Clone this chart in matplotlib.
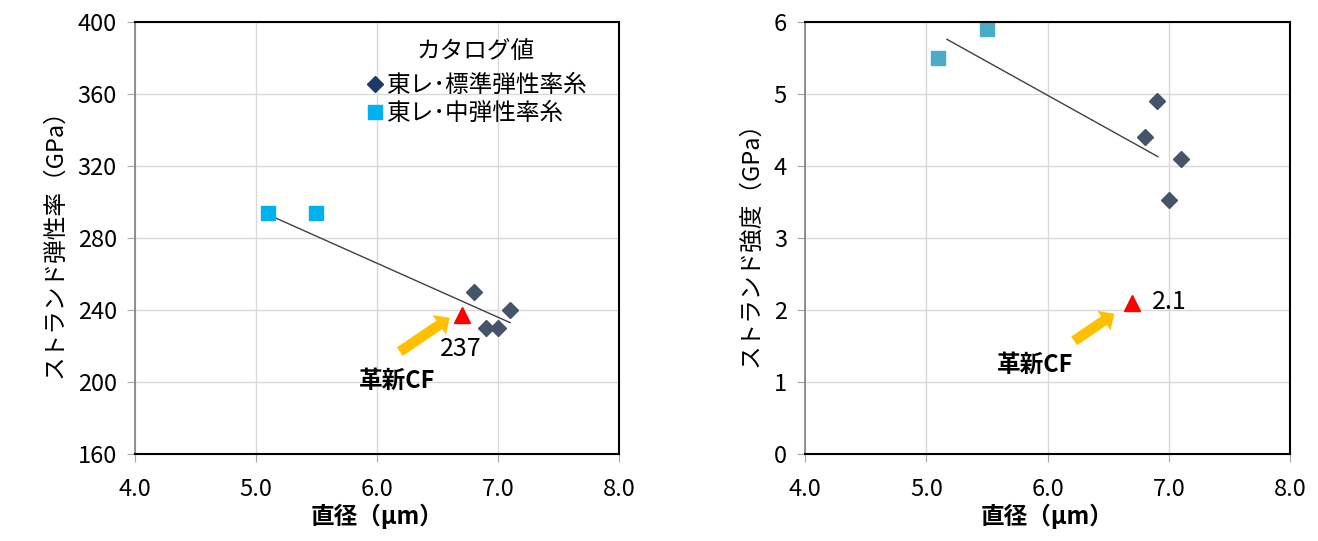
import matplotlib
matplotlib.use('Agg')
import matplotlib.pyplot as plt
from matplotlib.ticker import FormatStrFormatter

plt.rcParams['font.family'] = ['Noto Sans CJK JP', 'DejaVu Sans']

# catalog values (Toray)
std_d = [6.8, 6.9, 7.0, 7.1]
std_mod = [250, 230, 230, 240]
std_str = [4.4, 4.9, 3.53, 4.1]

mid_d = [5.1, 5.5]
mid_mod = [294, 294]
mid_str = [5.5, 5.9]

# new CF
new_d = [6.7]
new_mod = [237]
new_str = [2.1]

# trend lines
trend_mod_x = [5.1, 7.1]
trend_mod_y = [293, 233]
trend_str_x = [5.17, 6.91]
trend_str_y = [5.76, 4.13]

mod_ticks = [160, 200, 240, 280, 320, 360, 400]
str_ticks = [0, 1, 2, 3, 4, 5, 6]
d_ticks = [4.0, 5.0, 6.0, 7.0, 8.0]

fig = plt.figure(figsize=(13.18, 5.41), dpi=100)
ax1 = fig.add_axes([0.1024, 0.1608, 0.3672, 0.7985])
ax2 = fig.add_axes([0.6108, 0.1608, 0.3680, 0.7985])

arrow_style = 'simple,head_length=0.9,head_width=1.7,tail_width=0.75'


def style(ax, yt, ylabel):
    ax.set_xlim(4, 8)
    ax.set_ylim(yt[0], yt[-1])
    ax.set_xticks(d_ticks)
    ax.set_yticks(yt)
    ax.xaxis.set_major_formatter(FormatStrFormatter('%.1f'))
    ax.grid(True, color='#D9D9D9', lw=1)
    ax.set_axisbelow(True)
    for s in ['top', 'right', 'bottom']:
        ax.spines[s].set_color('black')
        ax.spines[s].set_linewidth(1.5)
    ax.spines['left'].set_color('#7F7F7F')
    ax.spines['left'].set_linewidth(1.2)
    ax.tick_params(direction='out', length=6, color='#A6A6A6', labelsize=17)
    ax.tick_params(axis='x', pad=11)
    ax.tick_params(axis='y', pad=7)
    ax.set_xlabel('直径（μm）', fontsize=17, fontweight='bold', labelpad=2)
    ax.set_ylabel(ylabel, fontsize=17, labelpad=8)


# left: modulus
ax1.plot(trend_mod_x, trend_mod_y, color='#404040', lw=1)
ax1.plot(std_d, std_mod, 'D', color='#44546A', ms=8, ls='none')
ax1.plot(mid_d, mid_mod, 's', color='#00B0F0', ms=9.5, ls='none')
ax1.plot(new_d, new_mod, '^', color='#FF0000', ms=11, ls='none', zorder=5)
h1, = ax1.plot([], [], 'D', color='#1F3864', ms=8, ls='none')
h2, = ax1.plot([], [], 's', color='#00B0F0', ms=9.5, ls='none')
leg = ax1.legend([h1, h2], ['東レ･標準弾性率糸', '東レ･中弾性率糸'],
                 title='カタログ値', loc='upper left', bbox_to_anchor=(0.462, 0.97),
                 frameon=False, fontsize=17, title_fontsize=17,
                 handletextpad=0.0, handlelength=1.0, labelspacing=0.22,
                 borderaxespad=0, borderpad=0.2)
leg._legend_box.sep = 8
ax1.annotate('', xy=(6.62, 236.5), xytext=(6.17, 216.0),
             arrowprops=dict(arrowstyle=arrow_style, color='#FFC000', lw=0))
ax1.text(6.69, 218.5, str(new_mod[0]), fontsize=18, ha='center', va='center')
ax1.text(6.17, 200.5, '革新CF', fontsize=17, fontweight='bold', ha='center', va='center')
style(ax1, mod_ticks, 'ストランド弾性率（GPa）')

# right: strength
ax2.plot(trend_str_x, trend_str_y, color='#404040', lw=1)
ax2.plot(std_d, std_str, 'D', color='#44546A', ms=8, ls='none')
ax2.plot(mid_d, mid_str, 's', color='#4BACC6', ms=9.5, ls='none', clip_on=False)
ax2.plot(new_d, new_str, '^', color='#FF0000', ms=11, ls='none', zorder=5)
ax2.annotate('', xy=(6.57, 1.97), xytext=(6.20, 1.55),
             arrowprops=dict(arrowstyle=arrow_style, color='#FFC000', lw=0))
ax2.text(6.86, 2.11, str(new_str[0]), fontsize=18, ha='left', va='center')
ax2.text(5.9, 1.24, '革新CF', fontsize=17, fontweight='bold', ha='center', va='center')
style(ax2, str_ticks, 'ストランド強度（GPa）')

plt.savefig('out.png', dpi=100)
